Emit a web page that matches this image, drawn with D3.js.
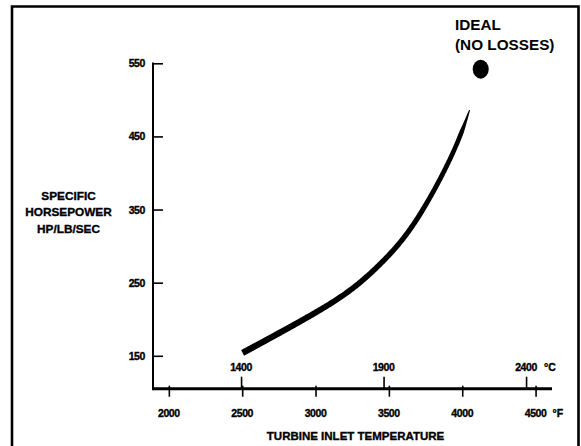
<!DOCTYPE html>
<html><head><meta charset="utf-8">
<script src="https://cdn.jsdelivr.net/npm/d3@7"></script>
<style>
body{margin:0;background:#fff}
svg{display:block}
text{font-family:"Liberation Sans",Arial,Helvetica,sans-serif;font-weight:bold;fill:#000}
text.heavy{stroke:#000;stroke-width:0.35px}
</style>
</head><body>
<svg id="c" width="581" height="446"></svg>
<script>
// ---- data ----
const tempF      = [2503, 2743, 2995, 3248, 3475, 3626, 3753, 3878, 3980, 4050];
const horsepower = [154, 180, 208, 239, 281, 316, 356, 402, 446, 486];
const idealF  = [4126];
const idealHP = [542];
const yTicks = [150, 250, 350, 450, 550];
const fTicks = [2000, 2500, 3000, 3500, 4000, 4500];
const cTicks = [1400, 1900, 2400];
const yTitle = ["SPECIFIC", "HORSEPOWER", "HP/LB/SEC"];
const xTitle = "TURBINE INLET TEMPERATURE";
const idealLabel = ["IDEAL", "(NO LOSSES)"];

// ---- layout ----
const L = 153, R = 552, B = 388.7, T = 63.3;
const svg = d3.select("#c");

const y  = d3.scaleLinear([105, 550], [B, T]);
const xF = d3.scaleLinear([1892, 4612], [L, R]);
const xC = d3.scaleLinear([1091, 2491], [L, R]);

// frame
svg.append("path").attr("d", "M12,446V6.5H578.5V446")
  .attr("fill", "none").attr("stroke", "#000").attr("stroke-width", 2.6);

// y axis
const gy = svg.append("g").attr("transform", `translate(${L},0)`)
  .call(d3.axisRight(y).tickValues(yTicks).tickSize(10).tickFormat(""));
gy.select(".domain").remove();
gy.selectAll(".tick line").attr("stroke", "#000").attr("stroke-width", 1.6);
svg.append("line").attr("x1", L).attr("x2", L).attr("y1", y(550) - 0.8).attr("y2", B + 1.5)
  .attr("stroke", "#000").attr("stroke-width", 2);
svg.selectAll("text.yl").data(yTicks).join("text").attr("class", "yl heavy")
  .attr("x", L - 8).attr("y", d => y(d) + 4).attr("text-anchor", "end")
  .attr("font-size", 10.5).attr("letter-spacing", -0.4).text(d => d);

// x axis line
svg.append("line").attr("x1", L).attr("x2", R).attr("y1", B).attr("y2", B)
  .attr("stroke", "#000").attr("stroke-width", 3);

// Celsius ticks (up)
const gc = svg.append("g").attr("transform", `translate(0,${B})`)
  .call(d3.axisTop(xC).tickValues(cTicks).tickSize(12).tickFormat(""));
gc.select(".domain").remove();
gc.selectAll(".tick line").attr("stroke", "#000").attr("stroke-width", 1.6);
svg.selectAll("text.cl").data(cTicks).join("text").attr("class", "cl heavy")
  .attr("x", d => xC(d)).attr("y", B - 18).attr("text-anchor", "middle")
  .attr("font-size", 10.5).attr("letter-spacing", -0.4).text(d => d);
svg.append("text").attr("class", "heavy").attr("x", xC(2400) + 18).attr("y", B - 18)
  .attr("font-size", 10.5).text("°C");

// Fahrenheit ticks (down)
const gf = svg.append("g").attr("transform", `translate(0,${B - 3})`)
  .call(d3.axisBottom(xF).tickValues(fTicks).tickSize(11).tickFormat(""));
gf.select(".domain").remove();
gf.selectAll(".tick line").attr("stroke", "#000").attr("stroke-width", 1.6);
svg.selectAll("text.fl").data(fTicks).join("text").attr("class", "fl heavy")
  .attr("x", d => xF(d)).attr("y", B + 28).attr("text-anchor", "middle")
  .attr("font-size", 10.5).attr("letter-spacing", -0.4).text(d => d);
svg.append("text").attr("class", "heavy").attr("x", xF(4500) + 17).attr("y", B + 28)
  .attr("font-size", 10.5).text("°F");

// titles
svg.append("text").attr("class", "heavy").attr("x", 355.5).attr("y", 439.5).attr("text-anchor", "middle")
  .attr("font-size", 11.5).text(xTitle);
svg.selectAll("text.yt").data(yTitle).join("text").attr("class", "yt heavy")
  .attr("x", 68.5).attr("y", (d, i) => 199.5 + i * 16.5).attr("text-anchor", "middle")
  .attr("font-size", 11.8).text(d => d);

// ideal point + label
svg.selectAll("ellipse.ideal").data(idealF).join("ellipse").attr("class", "ideal")
  .attr("cx", d => xF(d)).attr("cy", (d, i) => y(idealHP[i]))
  .attr("rx", 8).attr("ry", 9.5).attr("fill", "#000");
svg.selectAll("text.il").data(idealLabel).join("text").attr("class", "il")
  .attr("x", 455).attr("y", (d, i) => 30 + i * 20)
  .attr("font-size", 15.3).text(d => d);

// curve with tapering width
const pts = tempF.map((t, i) => [xF(t), y(horsepower[i])]);
const lineGen = d3.line().curve(d3.curveBasis);
const hidden = svg.append("path").attr("d", lineGen(pts)).attr("fill", "none").attr("stroke", "none");
const node = hidden.node();
const len = node.getTotalLength();
const N = 260, left = [], right = [];
for (let k = 0; k <= N; k++) {
  const t = k / N;
  const p = node.getPointAtLength(t * len);
  const q = node.getPointAtLength(Math.min(len, t * len + 0.5));
  const q0 = node.getPointAtLength(Math.max(0, t * len - 0.5));
  let dx = q.x - q0.x, dy = q.y - q0.y; const m = Math.hypot(dx, dy) || 1;
  dx /= m; dy /= m;
  let w = 6.4 - 2.0 * t;
  if (t > 0.93) w = w * (1 - (t - 0.93) / 0.07 * 0.75);
  const h = w / 2;
  left.push([p.x - dy * h, p.y + dx * h]);
  right.push([p.x + dy * h, p.y - dx * h]);
}
svg.append("path").attr("d", d3.line()(left.concat(right.reverse())) + "Z")
  .attr("fill", "#000");
</script>
</body></html>
